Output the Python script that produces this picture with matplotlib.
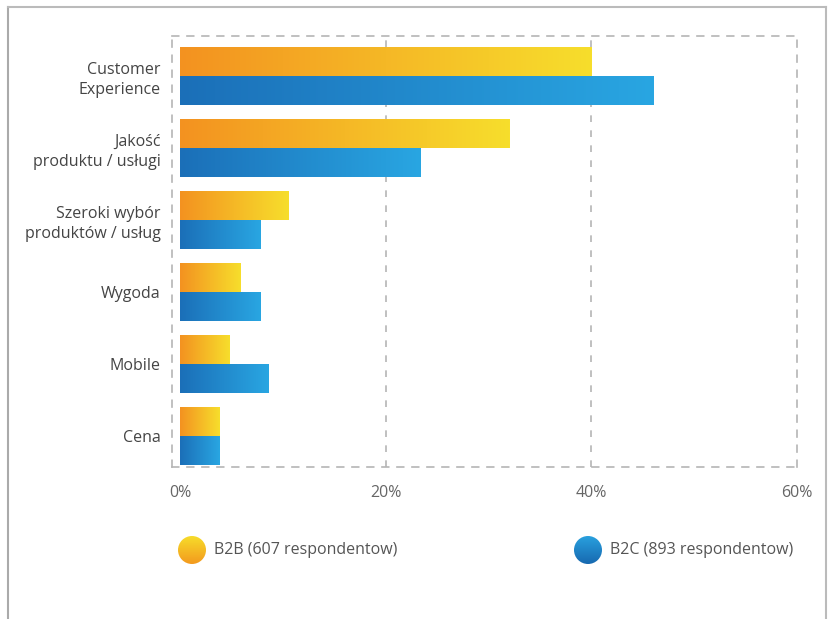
import numpy as np
import matplotlib.pyplot as plt
from matplotlib.colors import LinearSegmentedColormap
from matplotlib.patches import Circle

# data
categories = ['Customer\nExperience', 'Jakość\nproduktu / usługi', 'Szeroki wybór\nproduktów / usług',
              'Wygoda', 'Mobile', 'Cena']
b2b = [40, 32, 10.6, 5.9, 4.8, 3.8]
b2c = [46, 23.4, 7.8, 7.8, 8.6, 3.8]
xticks = [0, 20, 40, 60]
xticklabels = ['0%', '20%', '40%', '60%']
legend_labels = ['B2B (607 respondentow)', 'B2C (893 respondentow)']

plt.rcParams['font.family'] = ['Open Sans', 'DejaVu Sans']

orange = LinearSegmentedColormap.from_list('org', ['#f39220', '#f7de2c'])
blue = LinearSegmentedColormap.from_list('blu', ['#1b6fb8', '#29a6e2'])

fig = plt.figure(figsize=(8.3, 6.19), dpi=100)
ax = fig.add_axes([172/830, 1-467/619, (797-172)/830, (467-36)/619])

grad = np.linspace(0, 1, 256).reshape(1, -1)
h = 0.4
y = np.arange(len(categories))
for i in range(len(categories)):
    ax.imshow(grad, cmap=orange, extent=[0, b2b[i], y[i], y[i]-h], aspect='auto', zorder=2)
    ax.imshow(grad, cmap=blue, extent=[0, b2c[i], y[i]+h, y[i]], aspect='auto', zorder=2)

ax.set_xlim(-0.78, 60)
ax.set_ylim(5.43, -0.556)

# dashed grid and frame
for xv in [20, 40]:
    ax.axvline(xv, color='#b5b5b5', lw=1.2, ls=(0, (4, 5)), zorder=1)
for s in ax.spines.values():
    s.set_color('#b5b5b5')
    s.set_linewidth(1.2)
    s.set_linestyle((0, (4, 5)))

ax.set_yticks(y)
ax.set_yticklabels(categories, fontsize=11.5, color='#444444', linespacing=1.3)
ax.set_xticks(xticks)
ax.set_xticklabels(xticklabels, fontsize=11.5, color='#666666')
ax.tick_params(length=0)
ax.tick_params(axis='y', pad=8)
ax.tick_params(axis='x', pad=13)

# legend with gradient circles
def grad_circle(cx, cy, cmap):
    r = 14
    cax = fig.add_axes([(cx-r)/830, 1-(cy+r)/619, 2*r/830, 2*r/619])
    cax.imshow(np.linspace(0, 1, 64).reshape(-1, 1), cmap=cmap, extent=[-1, 1, -1, 1], aspect='auto')
    cax.set_xlim(-1, 1)
    cax.set_ylim(-1, 1)
    c = Circle((0, 0), 1, transform=cax.transData)
    cax.images[0].set_clip_path(c)
    cax.axis('off')

grad_circle(192, 550, LinearSegmentedColormap.from_list('o2', ['#f7dc2a', '#f39a1e']))
grad_circle(588, 550, LinearSegmentedColormap.from_list('b2', ['#29a0de', '#1769b0']))
fig.text(214/830, 1-550/619, legend_labels[0], fontsize=11.5, color='#555555', va='center')
fig.text(610/830, 1-550/619, legend_labels[1], fontsize=11.5, color='#555555', va='center')

# outer frame
fig.add_artist(plt.Line2D([8/830, 8/830], [0, 1-7/619], color='#aaaaaa', lw=1.5))
fig.add_artist(plt.Line2D([8/830, 826/830], [1-7/619, 1-7/619], color='#bbbbbb', lw=1.5))
fig.add_artist(plt.Line2D([826/830, 826/830], [0, 1-7/619], color='#bbbbbb', lw=1.5))

fig.savefig('out.png', dpi=100)
